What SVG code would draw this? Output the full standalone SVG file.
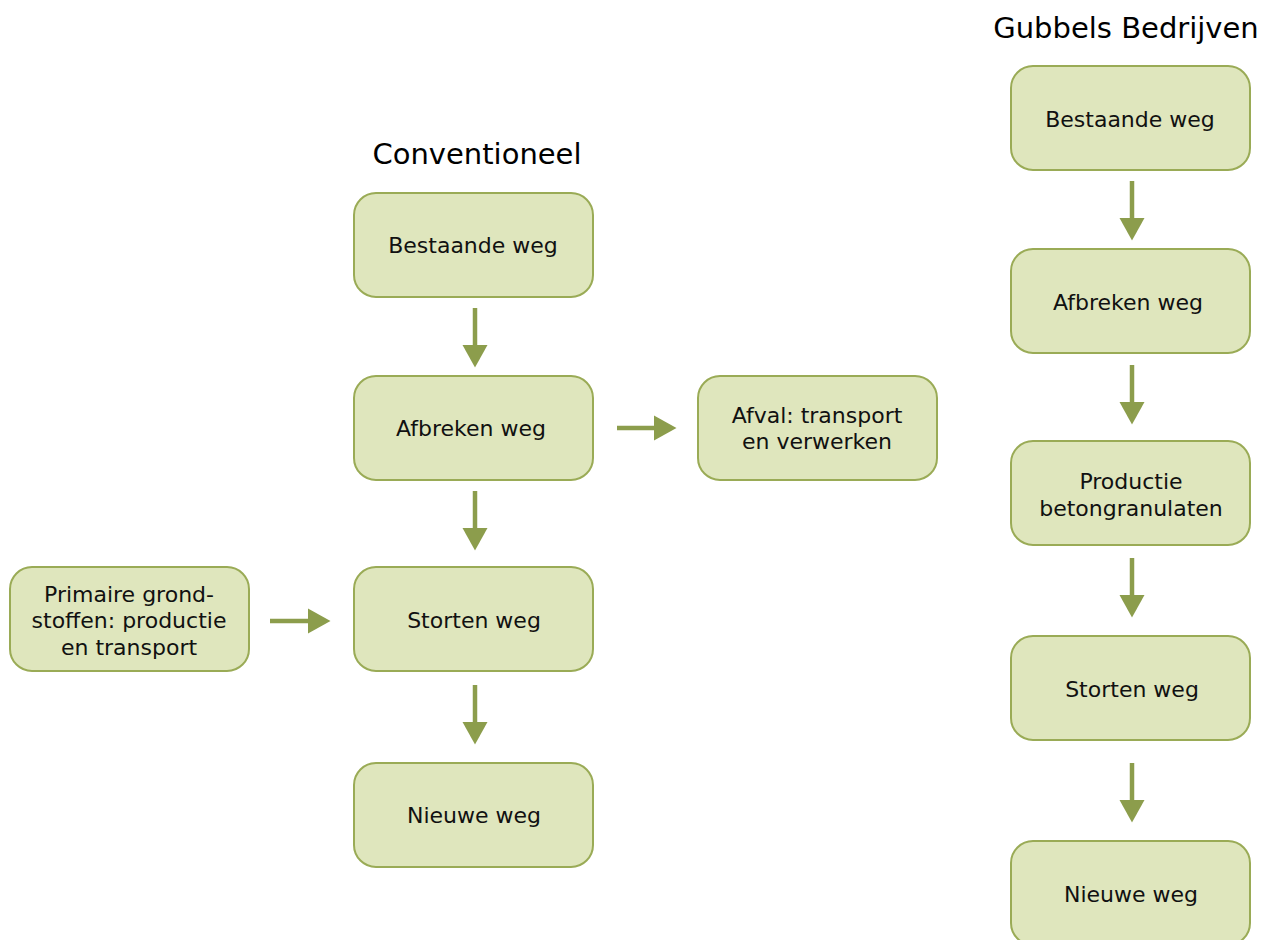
<svg xmlns="http://www.w3.org/2000/svg" width="1268" height="940" viewBox="0 0 1268 940">
<style>
.box{fill:#dfe6bd;stroke:#9aab56;stroke-width:2}
.lbl{font-family:"DejaVu Sans",Verdana,sans-serif;font-size:22px;fill:#111;text-anchor:middle}
.title{font-family:"DejaVu Sans",Verdana,sans-serif;font-size:29px;fill:#000;text-anchor:middle}
.arr{stroke:#8c9d4c;stroke-width:4.5;fill:none;marker-end:url(#ah)}
</style>
<defs>
<marker id="ah" markerUnits="userSpaceOnUse" markerWidth="23" markerHeight="26" refX="0" refY="13" orient="auto">
<path d="M0,0.5 L22.5,13 L0,25.5 Z" fill="#8c9d4c"/>
</marker>
</defs>
<rect width="1268" height="940" fill="#fff"/>
<text class="title" x="477" y="164">Conventioneel</text>
<text class="title" x="1126" y="38">Gubbels Bedrijven</text>

<g id="c-bestaande"><rect class="box" x="354" y="193" width="239" height="104" rx="22"/><text class="lbl" x="473" y="253">Bestaande weg</text></g>
<g id="c-afbreken"><rect class="box" x="354" y="376" width="239" height="104" rx="22"/><text class="lbl" x="471" y="436">Afbreken weg</text></g>
<g id="c-afval"><rect class="box" x="698" y="376" width="239" height="104" rx="22"/><text class="lbl" x="817" y="423">Afval: transport</text><text class="lbl" x="817" y="449">en verwerken</text></g>
<g id="c-primaire"><rect class="box" x="10" y="567" width="239" height="104" rx="22"/><text class="lbl" x="129" y="602">Primaire grond-</text><text class="lbl" x="129" y="628">stoffen: productie</text><text class="lbl" x="129" y="655">en transport</text></g>
<g id="c-storten"><rect class="box" x="354" y="567" width="239" height="104" rx="22"/><text class="lbl" x="474" y="628">Storten weg</text></g>
<g id="c-nieuwe"><rect class="box" x="354" y="763" width="239" height="104" rx="22"/><text class="lbl" x="474" y="823">Nieuwe weg</text></g>

<g id="g-bestaande"><rect class="box" x="1011" y="66" width="239" height="104" rx="22"/><text class="lbl" x="1130" y="127">Bestaande weg</text></g>
<g id="g-afbreken"><rect class="box" x="1011" y="249" width="239" height="104" rx="22"/><text class="lbl" x="1128" y="310">Afbreken weg</text></g>
<g id="g-productie"><rect class="box" x="1011" y="441" width="239" height="104" rx="22"/><text class="lbl" x="1131" y="489">Productie</text><text class="lbl" x="1131" y="516">betongranulaten</text></g>
<g id="g-storten"><rect class="box" x="1011" y="636" width="239" height="104" rx="22"/><text class="lbl" x="1132" y="697">Storten weg</text></g>
<g id="g-nieuwe"><rect class="box" x="1011" y="841" width="239" height="104" rx="22"/><text class="lbl" x="1131" y="902">Nieuwe weg</text></g>

<g id="connectors">
<line class="arr" x1="475" y1="308" x2="475" y2="345"/>
<line class="arr" x1="475" y1="491" x2="475" y2="528"/>
<line class="arr" x1="475" y1="685" x2="475" y2="722"/>
<line class="arr" x1="617" y1="428" x2="654" y2="428"/>
<line class="arr" x1="270" y1="621" x2="308" y2="621"/>
<line class="arr" x1="1132" y1="181" x2="1132" y2="218"/>
<line class="arr" x1="1132" y1="365" x2="1132" y2="402"/>
<line class="arr" x1="1132" y1="558" x2="1132" y2="595"/>
<line class="arr" x1="1132" y1="763" x2="1132" y2="800"/>
</g>
</svg>
